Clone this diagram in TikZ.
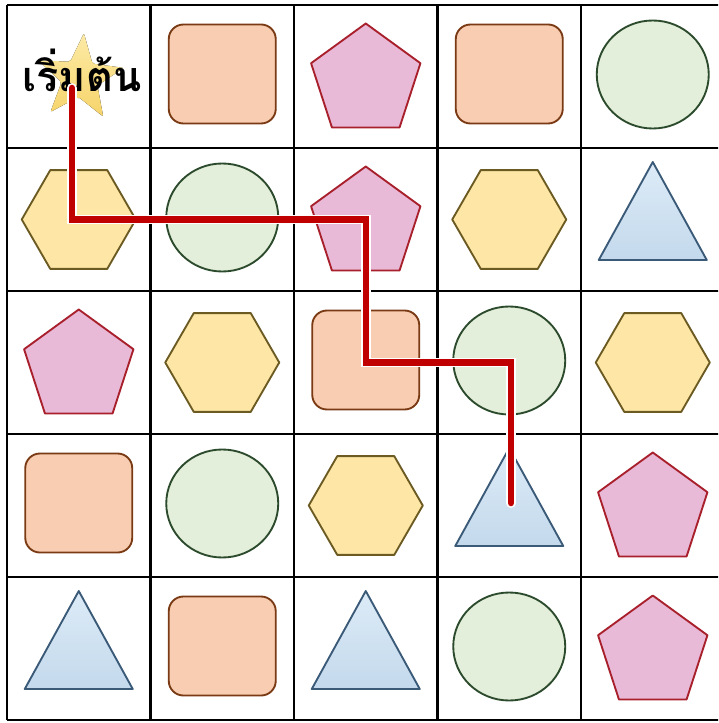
\documentclass[tikz,border=0pt]{standalone}
\usepackage{fontspec}
\newfontfamily\thaifont[Script=Thai]{Loma}
\usetikzlibrary{shapes.geometric}
\definecolor{sqfill}{HTML}{F8CDB2}
\definecolor{sqline}{HTML}{7A3A14}
\definecolor{pentfill}{HTML}{E9BAD7}
\definecolor{pentline}{HTML}{A8202C}
\definecolor{circfill}{HTML}{E3EEDB}
\definecolor{circline}{HTML}{2C4A2C}
\definecolor{hexfill}{HTML}{FEE7A6}
\definecolor{hexline}{HTML}{6B5A22}
\definecolor{trifillA}{HTML}{DDEBF7}
\definecolor{trifillB}{HTML}{C3D9EC}
\definecolor{triline}{HTML}{3A5A78}
\definecolor{starA}{HTML}{FCEAA6}
\definecolor{starB}{HTML}{F6D46A}
\definecolor{pathred}{HTML}{C00000}
\begin{document}
\begin{tikzpicture}[x=0.75pt,y=-0.75pt,
  gridline/.style={line width=2.2pt,black},
  shp/.style={line width=1.4pt,line join=round},
  halo/.style={line width=7.4pt,white,line join=miter,line cap=round},
  redpath/.style={line width=4.9pt,pathred,line join=miter,line cap=round},
  sq/.pic={\draw[shp,draw=sqline,fill=sqfill,rounded corners=11pt] (-53.5,-52) rectangle (53.5,47);},
  pent/.pic={\draw[shp,draw=pentline,fill=pentfill,shift={(0,4.5)}] (-90:57.5) -- (-18:57.5) -- (54:57.5) -- (126:57.5) -- (198:57.5) -- cycle;},
  hexa/.pic={\draw[shp,draw=hexline,fill=hexfill] (0:57) -- (60:57) -- (120:57) -- (180:57) -- (240:57) -- (300:57) -- cycle;},
  circ/.pic={\draw[shp,draw=circline,fill=circfill] (0,-2) ellipse [x radius=56,y radius=54];},
  tri/.pic={\draw[shp,draw=triline,top color=trifillA,bottom color=trifillB] (0,-57.5) -- (54,40.5) -- (-54,40.5) -- cycle;},
  starpic/.pic={\fill[top color=starA,bottom color=starB,rounded corners=1.5pt,rotate=-5] (-90:45) -- (-54:19) -- (-18:45) -- (18:19) -- (54:45) -- (90:19) -- (126:45) -- (162:19) -- (198:45) -- (234:19) -- cycle;}
]
\useasboundingbox (0,0) rectangle (718,723);
\clip (0,0) rectangle (718,723);
\fill[white] (0,0) rectangle (718,723);
% cell centres
\foreach \r in {0,...,4}{
  \foreach \c in {0,...,4}{
    \coordinate (m\r\c) at ({78.75+143.5*\c},{76.5+143*\r});
  }
}
% grid
\foreach \x in {7,150.5,294,437.5,581,724.5}{
  \draw[gridline] (\x,5) -- (\x,720);
}
\foreach \y in {5,148,291,434,577,720}{
  \draw[gridline] (7,\y) -- (725,\y);
}
% row 0
\pic at (80,78) {starpic};
\pic at (m01) {sq};
\pic at (m02) {pent};
\pic at (m03) {sq};
\pic at (m04) {circ};
% row 1
\pic at (m10) {hexa};
\pic at (m11) {circ};
\pic at (m12) {pent};
\pic at (m13) {hexa};
\pic at (m14) {tri};
% row 2
\pic at (m20) {pent};
\pic at (m21) {hexa};
\pic at (m22) {sq};
\pic at (m23) {circ};
\pic at (m24) {hexa};
% row 3
\pic at (m30) {sq};
\pic at (m31) {circ};
\pic at (m32) {hexa};
\pic at (m33) {tri};
\pic at (m34) {pent};
% row 4
\pic at (m40) {tri};
\pic at (m41) {sq};
\pic at (m42) {tri};
\pic at (m43) {circ};
\pic at (m44) {pent};
% start label
\node[anchor=base,inner sep=0pt,font=\thaifont\bfseries\fontsize{31}{36}\selectfont] (start) at (82,92) {เริ่มต้น};
% path
\coordinate (p0) at (72,88);
\coordinate (p1) at (72,219.5);
\coordinate (p2) at (366,219.5);
\coordinate (p3) at (366,362.5);
\coordinate (p4) at (511,362.5);
\coordinate (p5) at (511,503);
\draw[halo] (p0) -- (p1) -- (p2) -- (p3) -- (p4) -- (p5);
\draw[redpath] (p0) -- (p1) -- (p2) -- (p3) -- (p4) -- (p5);
\end{tikzpicture}
\end{document}
